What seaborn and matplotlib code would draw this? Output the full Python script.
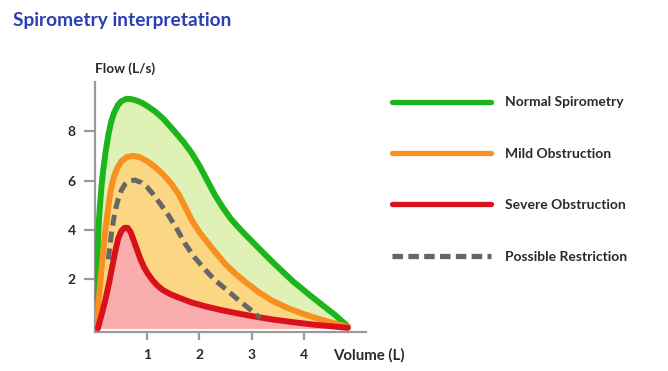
import pandas as pd
import numpy as np
import matplotlib.pyplot as plt
import seaborn as sns

sns.set_theme(style="white")
plt.rcParams['font.family'] = ['Lato', 'DejaVu Sans']

# =========================
# DATA
# =========================

normal_vol = [0.02, 0.03, 0.04, 0.05, 0.07, 0.09, 0.12, 0.15, 0.2, 0.25, 0.3, 0.36, 0.43,
              0.5, 0.6, 0.7, 0.8, 0.9, 1.0, 1.15, 1.3, 1.5, 1.7, 1.85, 2.0, 2.15, 2.3,
              2.45, 2.6, 2.8, 3.0, 3.2, 3.4, 3.6, 3.8, 4.1, 4.4, 4.6, 4.85]
normal_flow = [0.0, 1.2, 2.4, 3.5, 4.4, 5.0, 5.8, 6.4, 7.2, 7.85, 8.35, 8.75, 9.05,
               9.22, 9.32, 9.3, 9.24, 9.15, 9.02, 8.8, 8.52, 8.05, 7.55, 7.12, 6.6, 6.0, 5.4,
               4.9, 4.45, 3.98, 3.55, 3.12, 2.7, 2.3, 1.9, 1.38, 0.88, 0.55, 0.08]

mild_vol = [0.02, 0.05, 0.08, 0.11, 0.14, 0.17, 0.2, 0.23, 0.26, 0.3, 0.35, 0.42, 0.5,
            0.6, 0.72, 0.85, 1.0, 1.15, 1.3, 1.45, 1.6, 1.72, 1.85, 2.0, 2.15, 2.3,
            2.5, 2.7, 2.9, 3.15, 3.4, 3.7, 4.0, 4.3, 4.6, 4.85]
mild_flow = [0.0, 0.75, 1.5, 2.2, 2.9, 3.5, 4.1, 4.6, 5.1, 5.65, 6.1, 6.5, 6.78,
             6.95, 7.0, 6.95, 6.78, 6.55, 6.25, 5.9, 5.45, 4.95, 4.4, 3.9, 3.5, 3.1,
             2.6, 2.2, 1.85, 1.45, 1.12, 0.82, 0.58, 0.38, 0.2, 0.06]

severe_vol = [0.05, 0.12, 0.19, 0.26, 0.32, 0.38, 0.44, 0.5, 0.56, 0.62, 0.68, 0.74,
              0.8, 0.86, 0.93, 1.0, 1.1, 1.2, 1.3, 1.45, 1.6, 1.85, 2.1, 2.4, 2.7,
              3.0, 3.4, 3.8, 4.2, 4.55, 4.85]
severe_flow = [0.0, 0.55, 1.13, 1.8, 2.45, 3.1, 3.65, 3.95, 4.08, 4.08, 3.9, 3.55,
               3.2, 2.85, 2.5, 2.25, 1.95, 1.72, 1.55, 1.38, 1.25, 1.05, 0.9, 0.75, 0.62,
               0.5, 0.36, 0.25, 0.15, 0.08, 0.02]

restrict_vol = [0.25, 0.28, 0.31, 0.35, 0.39, 0.44, 0.5, 0.57, 0.65, 0.76, 0.88, 1.0,
                1.12, 1.25, 1.4, 1.55, 1.72, 1.9, 2.1, 2.3, 2.5, 2.75, 3.0, 3.17]
restrict_flow = [2.8, 3.35, 3.85, 4.4, 4.85, 5.25, 5.6, 5.85, 5.98, 6.02, 5.92, 5.72,
                 5.42, 5.05, 4.6, 4.1, 3.45, 2.9, 2.4, 1.95, 1.6, 1.15, 0.72, 0.42]

labels = ["Normal Spirometry", "Mild Obstruction", "Severe Obstruction", "Possible Restriction"]
x_ticks = [1, 2, 3, 4]
y_ticks = [2, 4, 6, 8]

# =========================
# FIGURE
# =========================

fig = plt.figure(figsize=(6.68, 3.71), dpi=100)
ax = fig.add_axes([0.1427, 0.105, 0.4053, 0.674])

green, orange, red, grey = "#1cb51c", "#f7901e", "#d8111c", "#666666"
lw = 4.3
txt_col = "#2a2a2a"

ax.fill_between(normal_vol, normal_flow, color="#e0f1b5", lw=0, zorder=1)
ax.fill_between(mild_vol, mild_flow, color="#fbd784", lw=0, zorder=2)
ax.fill_between(severe_vol, severe_flow, color="#f9adad", lw=0, zorder=3)

curves = [
    (normal_vol, normal_flow, green),
    (mild_vol, mild_flow, orange),
    (severe_vol, severe_flow, red),
]
for (vx, fy, col), lab in zip(curves, labels[:3]):
    sns.lineplot(x=vx, y=fy, color=col, lw=lw, ax=ax, label=lab, sort=False,
                 solid_capstyle="round", solid_joinstyle="round")

sns.lineplot(x=restrict_vol, y=restrict_flow, color=grey, lw=3.6, ax=ax,
             label=labels[3], sort=False)
ax.lines[-1].set_dashes([2.2, 1.2])

for ln, z in zip(ax.lines, [5, 6, 7, 8]):
    ln.set_zorder(z)

ax.set_xlim(0, 5.2)
ax.set_ylim(-0.15, 10.0)
ax.set_xticks(x_ticks)
ax.set_yticks(y_ticks)
ax.set_xticklabels([str(t) for t in x_ticks])
ax.set_yticklabels([str(t) for t in y_ticks])
ax.set_xlabel("")
ax.set_ylabel("")

for side in ["top", "right"]:
    ax.spines[side].set_visible(False)
for side in ["left", "bottom"]:
    ax.spines[side].set_color("#9a9a9a")
    ax.spines[side].set_linewidth(1.6)

ax.tick_params(axis="both", which="major", direction="out", color="#9a9a9a",
               width=1.6, labelsize=10, labelcolor=txt_col, left=True, bottom=True)
ax.tick_params(axis="x", length=6, pad=6)
ax.tick_params(axis="y", length=8, pad=6)
for t in ax.get_xticklabels() + ax.get_yticklabels():
    t.set_fontweight("bold")

# legend
handles, _ = ax.get_legend_handles_labels()
leg = ax.legend(handles=handles, labels=labels, loc="center left",
                bbox_to_anchor=(0.577, 0.516), bbox_transform=fig.transFigure,
                frameon=False, fontsize=10, handlelength=7.1, handletextpad=0.98,
                labelspacing=2.84, borderpad=0)
for txt in leg.get_texts():
    txt.set_fontweight("bold")
    txt.set_color(txt_col)
for h in leg.get_lines():
    h.set_linewidth(3.8)
    h.set_solid_capstyle("round")
leg.get_lines()[-1].set_dashes([2.0, 1.0])

# titles and axis names
fig.text(0.019, 0.946, "Spirometry interpretation", fontsize=13.8, fontweight="bold",
         color="#2a3fb5", va="center", ha="left")
fig.text(0.142, 0.814, "Flow (L/s)", fontsize=9.8, fontweight="bold",
         color=txt_col, va="center", ha="left")
fig.text(0.4985, 0.043, "Volume (L)", fontsize=10.8, fontweight="bold",
         color=txt_col, va="center", ha="left")

fig.savefig("out.png", dpi=100)
